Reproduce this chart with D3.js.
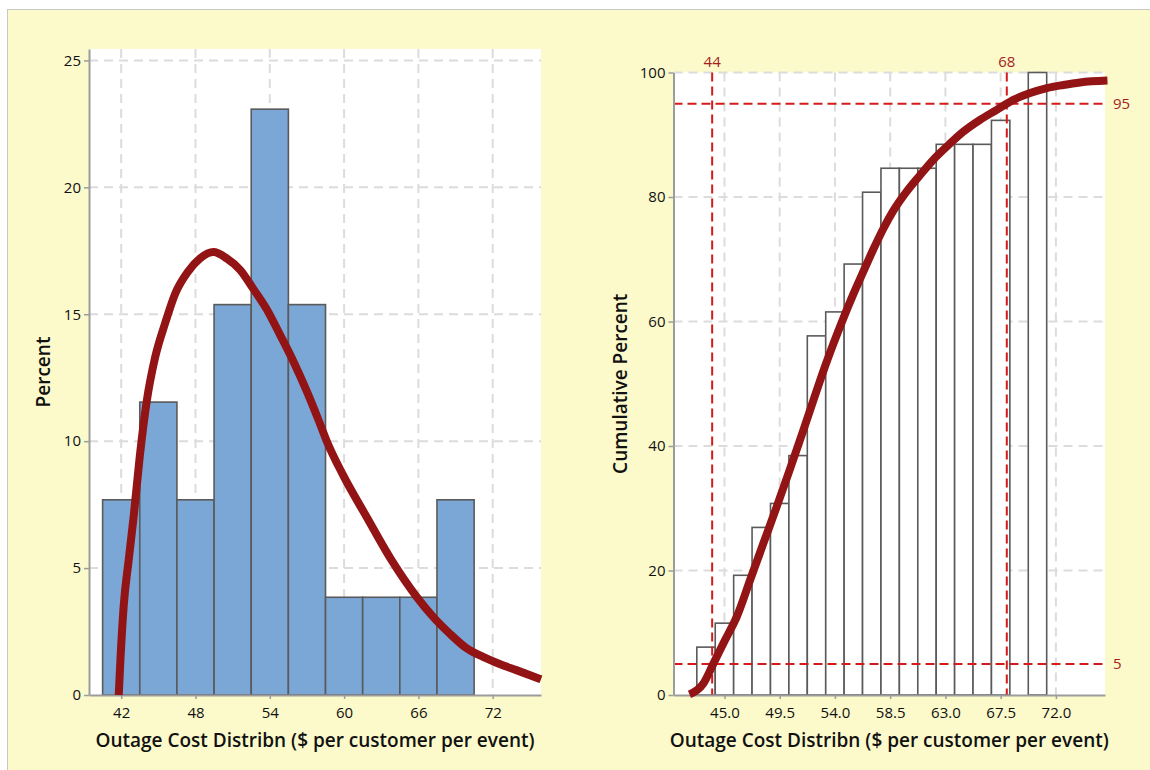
<!DOCTYPE html>
<html>
<head>
<meta charset="utf-8">
<script src="https://cdn.jsdelivr.net/npm/d3@7"></script>
<style>
  html, body { margin: 0; padding: 0; background: #ffffff; }
  svg { display: block; font-family: "Open Sans", "Noto Sans", sans-serif; }
</style>
</head>
<body>
<svg id="chart" width="1150" height="770"></svg>
<script>
// ---- Histogram of outage cost (percent per 3-dollar bin) ----
const binMid = [42, 45, 48, 51, 54, 57, 60, 63, 66, 69];
const binPct = [7.69, 11.54, 7.69, 15.38, 23.08, 15.38, 3.85, 3.85, 3.85, 7.69];
const binWidth = 3;

// fitted density curve, percent scale
const pdfX   = [41.8, 41.95, 42.2, 42.6, 43.0, 43.5, 44.07, 44.74, 45.55, 46.35, 47.43, 48.37, 49.45,
                50.52, 51.6, 52.67, 53.75, 54.82, 55.9, 57.0, 58.0, 58.6, 59.93, 61.81, 63.83,
                65.85, 67.19, 68.53, 69.87, 71.22, 72.56, 73.91, 75.9];
const pdfPct = [0, 1.5, 3.5, 5.3, 7.0, 9.4, 11.6, 13.3, 14.65, 15.8, 16.7, 17.2, 17.45,
                17.2, 16.75, 16.0, 15.2, 14.2, 13.15, 11.95, 10.75, 10.0, 8.65, 7.02, 5.31,
                3.87, 3.08, 2.42, 1.85, 1.5, 1.22, 0.98, 0.62];

const leftTicksX = [42, 48, 54, 60, 66, 72];
const leftTicksY = [0, 5, 10, 15, 20, 25];

// ---- Cumulative histogram (1.5-dollar bins) ----
const cumMid = [43.5, 45, 46.5, 48, 49.5, 51, 52.5, 54, 55.5, 57, 58.5, 60, 61.5, 63, 64.5, 66, 67.5, 69, 70.5];
const cumPct = [7.69, 11.54, 19.23, 26.92, 30.77, 38.46, 57.69, 61.54, 69.23, 80.77,
                84.62, 84.62, 84.62, 88.46, 88.46, 88.46, 92.31, null, 100];
const cumWidth = 1.5;

// fitted cumulative curve
const cdfX   = [42.15, 43.27, 44.09, 45.04, 45.99, 47.08, 48.16, 49.25, 50.34, 51.42, 52.24, 53.05,
                53.87, 54.68, 55.5, 56.31, 57.13, 57.94, 58.76, 59.85, 60.93, 62.02, 63.11, 64.46,
                65.82, 67.18, 68.54, 69.9, 71.26, 72.61, 73.97, 76.2];
const cdfPct = [0.1, 1.8, 5.0, 8.8, 12.5, 18.4, 24.3, 30.2, 36.3, 42.5, 47.3, 52.0,
                56.4, 60.5, 64.4, 68.0, 71.6, 74.9, 77.8, 80.9, 83.5, 86.0, 88.1, 90.5,
                92.4, 94.0, 95.6, 96.7, 97.5, 98.0, 98.4, 98.7];

const rightTicksX = [45.0, 49.5, 54.0, 58.5, 63.0, 67.5, 72.0];
const rightTicksY = [0, 20, 40, 60, 80, 100];

// percentile reference lines
const refX = [44, 68];
const refY = [5, 95];

const xTitle = "Outage Cost Distribn ($ per customer per event)";

// ---- styling ----
const BG = "#fcfacb";
const GRID = "#dcdcdc";
const AXIS = "#9c9c9c";
const BAR_STROKE = "#5a5a5a";
const BAR_FILL = "#7ba7d7";
const CURVE = "#921414";
const REF = "#d41a1a";
const REF_TEXT = "#a41e1e";

const svg = d3.select("#chart");

svg.append("rect")
  .attr("x", 7.5).attr("y", 9.5).attr("width", 1160).attr("height", 780)
  .attr("fill", BG).attr("stroke", "#c8c8c8").attr("stroke-width", 1);

function panel(opts) {
  const { x0, x1, yTop, yBot, xDomain, yDomain, xTicks, yTicks } = opts;
  const g = svg.append("g");
  const x = d3.scaleLinear().domain(xDomain).range([x0, x1]);
  const y = d3.scaleLinear().domain(yDomain).range([yBot, yTop]);

  g.append("rect")
    .attr("x", x0).attr("y", yTop).attr("width", x1 - x0).attr("height", yBot - yTop)
    .attr("fill", "#ffffff");

  // grid
  g.append("g").selectAll("line").data(xTicks).join("line")
    .attr("x1", d => x(d)).attr("x2", d => x(d))
    .attr("y1", yTop).attr("y2", yBot)
    .attr("stroke", GRID).attr("stroke-width", 2).attr("stroke-dasharray", "9,6");
  g.append("g").selectAll("line").data(yTicks.filter(d => d > 0)).join("line")
    .attr("x1", x0).attr("x2", x1)
    .attr("y1", d => y(d)).attr("y2", d => y(d))
    .attr("stroke", GRID).attr("stroke-width", 2).attr("stroke-dasharray", "9,6");

  return { g, x, y };
}

function drawAxes(p, opts) {
  const { x0, x1, yTop, yBot, xTicks, yTicks, xFmt, yTitle, yTitleX } = opts;
  const ax = p.g.append("g").attr("transform", `translate(0,${yBot})`)
    .call(d3.axisBottom(p.x).tickValues(xTicks).tickFormat(xFmt).tickSize(4).tickSizeOuter(0).tickPadding(8));
  ax.select(".domain").attr("stroke", AXIS).attr("stroke-width", 2);
  ax.selectAll(".tick line").attr("stroke", AXIS).attr("stroke-width", 1.5);
  ax.selectAll(".tick text").attr("font-size", 15).attr("fill", "#111")
    .attr("font-family", "'Open Sans', sans-serif");

  const ay = p.g.append("g").attr("transform", `translate(${x0},0)`)
    .call(d3.axisLeft(p.y).tickValues(yTicks).tickSize(5).tickSizeOuter(0).tickPadding(3));
  ay.select(".domain").attr("stroke", AXIS).attr("stroke-width", 2);
  ay.selectAll(".tick line").attr("stroke", AXIS).attr("stroke-width", 1.5);
  ay.selectAll(".tick text").attr("font-size", 15).attr("fill", "#111")
    .attr("font-family", "'Open Sans', sans-serif");

  p.g.append("text")
    .attr("x", (x0 + x1) / 2).attr("y", 747)
    .attr("text-anchor", "middle").attr("font-size", 19).attr("font-weight", 600).attr("fill", "#111")
    .text(xTitle);
  p.g.append("text")
    .attr("transform", `translate(${yTitleX},${(yTop + yBot) / 2}) rotate(-90)`)
    .attr("text-anchor", "middle").attr("font-size", 19).attr("font-weight", 600).attr("fill", "#111")
    .text(yTitle);
}

// ===== Left panel: histogram with fitted density =====
const L = { x0: 89, x1: 541, yTop: 49, yBot: 695, xDomain: [39.4, 75.9], yDomain: [0, 25.45],
            xTicks: leftTicksX, yTicks: leftTicksY, xFmt: d3.format("d"), yTitle: "Percent", yTitleX: 50 };
const pl = panel(L);

pl.g.append("g").selectAll("rect").data(binMid.map((m, i) => ({ m, v: binPct[i] }))).join("rect")
  .attr("x", d => pl.x(d.m - binWidth / 2))
  .attr("width", d => pl.x(d.m + binWidth / 2) - pl.x(d.m - binWidth / 2))
  .attr("y", d => pl.y(d.v))
  .attr("height", d => pl.y(0) - pl.y(d.v))
  .attr("fill", BAR_FILL).attr("stroke", BAR_STROKE).attr("stroke-width", 1.6);

drawAxes(pl, L);

pl.g.append("path")
  .datum(pdfX.map((v, i) => [v, pdfPct[i]]))
  .attr("d", d3.line().x(d => pl.x(d[0])).y(d => pl.y(d[1])).curve(d3.curveMonotoneX))
  .attr("fill", "none").attr("stroke", CURVE).attr("stroke-width", 8);

// ===== Right panel: cumulative histogram with fitted CDF =====
const R = { x0: 673.5, x1: 1105, yTop: 72.5, yBot: 695, xDomain: [40.85, 76.0], yDomain: [0, 100],
            xTicks: rightTicksX, yTicks: rightTicksY, xFmt: d3.format(".1f"), yTitle: "Cumulative Percent", yTitleX: 627 };
const pr = panel(R);

pr.g.append("g").selectAll("rect")
  .data(cumMid.map((m, i) => ({ m, v: cumPct[i] })).filter(d => d.v !== null)).join("rect")
  .attr("x", d => pr.x(d.m - cumWidth / 2))
  .attr("width", d => pr.x(d.m + cumWidth / 2) - pr.x(d.m - cumWidth / 2))
  .attr("y", d => pr.y(d.v))
  .attr("height", d => pr.y(0) - pr.y(d.v))
  .attr("fill", "#ffffff").attr("stroke", BAR_STROKE).attr("stroke-width", 1.6);

// percentile reference lines
pr.g.append("g").selectAll("line").data(refX).join("line")
  .attr("x1", d => pr.x(d)).attr("x2", d => pr.x(d))
  .attr("y1", R.yTop).attr("y2", R.yBot)
  .attr("stroke", REF).attr("stroke-width", 2).attr("stroke-dasharray", "9,5");
pr.g.append("g").selectAll("line").data(refY).join("line")
  .attr("x1", R.x0).attr("x2", R.x1)
  .attr("y1", d => pr.y(d)).attr("y2", d => pr.y(d))
  .attr("stroke", REF).attr("stroke-width", 2).attr("stroke-dasharray", "9,5");

drawAxes(pr, R);

pr.g.append("path")
  .datum(cdfX.map((v, i) => [v, cdfPct[i]]))
  .attr("d", d3.line().x(d => pr.x(d[0])).y(d => pr.y(d[1])).curve(d3.curveMonotoneX))
  .attr("fill", "none").attr("stroke", CURVE).attr("stroke-width", 8);

// reference labels
pr.g.append("g").selectAll("text").data(refX).join("text")
  .attr("x", d => pr.x(d)).attr("y", 67)
  .attr("text-anchor", "middle").attr("font-size", 15).attr("fill", REF_TEXT)
  .text(d => d);
pr.g.append("g").selectAll("text").data(refY).join("text")
  .attr("x", 1113).attr("y", d => pr.y(d) + 5.5)
  .attr("text-anchor", "start").attr("font-size", 15).attr("fill", REF_TEXT)
  .text(d => d);
</script>
</body>
</html>
